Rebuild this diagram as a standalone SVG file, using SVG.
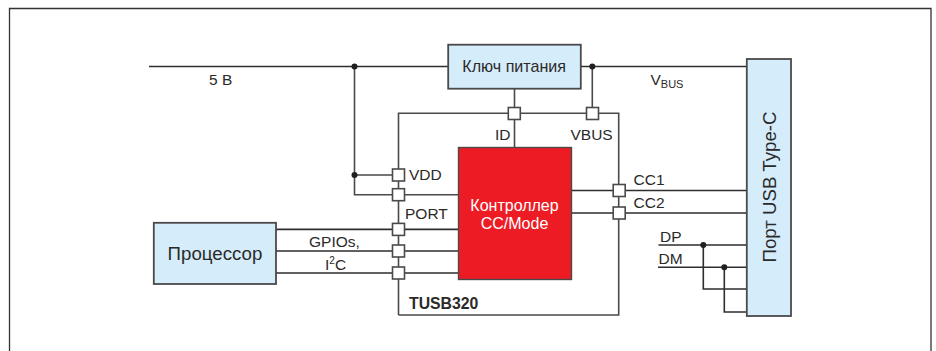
<svg xmlns="http://www.w3.org/2000/svg" width="936" height="351" viewBox="0 0 936 351">
<style>
text{font-family:"Liberation Sans",Arial,sans-serif;font-size:15.5px;fill:#2b2a29}
.w{fill:none;stroke:#4a4a4a;stroke-width:1.6}
.k{fill:none;stroke:#2e2e2e;stroke-width:1.6}
.blue{fill:#d5ecfa;stroke:#4a4a4a;stroke-width:1.8}
.pin{fill:#fff;stroke:#4a4a4a;stroke-width:1.6}
.dot{fill:#231f20}
.big{font-size:18.7px}
</style>
<rect width="936" height="351" fill="#fff"/>
<path id="frame" d="M9.5 351V8.5H931V351" fill="none" stroke="#333" stroke-width="1.3"/>
<g id="connectors">
<path class="k" d="M149 66.5H448M581 66.5H747"/>
<path class="w" d="M354.5 66.5V194.7H458M354.5 175H398.5"/>
<path class="w" d="M398.5 315V113.3H618.7V315H398.5"/>
<path class="w" d="M514.5 89V147.5M592.3 66.5V113.3"/>
<path class="k" d="M276 229.4H458M276 251H458M276 273H458"/>
<path class="k" d="M571.5 190.5H747M571.5 213H747"/>
<path class="k" d="M658.5 245H747M658 267.3H747M703.3 245V289H747M724.3 267.3V312H747"/>
<circle class="dot" cx="354.5" cy="66.5" r="3"/>
<circle class="dot" cx="354.5" cy="175" r="3"/>
<circle class="dot" cx="592.3" cy="66.5" r="3"/>
<circle class="dot" cx="703.3" cy="245" r="3"/>
<circle class="dot" cx="724.3" cy="267.3" r="3"/>
</g>
<g id="switch"><rect class="blue" x="448.2" y="44.7" width="132.6" height="44"/><text x="514.2" y="71.5" text-anchor="middle" style="font-size:16.1px">Ключ питания</text></g>
<g id="controller"><rect x="458.5" y="147.5" width="113" height="132" fill="#ed1c24" stroke="#4a4a4a" stroke-width="1.4"/><text x="514.5" y="210.5" text-anchor="middle" style="fill:#fff;font-size:16px">Контроллер</text><text x="514.5" y="229" text-anchor="middle" style="fill:#fff;font-size:16px">CC/Mode</text></g>
<g id="processor"><rect class="blue" x="153.8" y="222.8" width="122.2" height="61.2"/><text x="215" y="259.5" text-anchor="middle" class="big">Процессор</text></g>
<g id="port"><rect class="blue" x="746.8" y="59" width="44.2" height="257"/><text transform="translate(775.5 187) rotate(-90)" text-anchor="middle" class="big">Порт USB Type-C</text></g>
<g id="pins">
<rect class="pin" x="392.5" y="169" width="12" height="12"/>
<rect class="pin" x="392.5" y="188.7" width="12" height="12"/>
<rect class="pin" x="392.5" y="223.4" width="12" height="12"/>
<rect class="pin" x="392.5" y="245" width="12" height="12"/>
<rect class="pin" x="392.5" y="267" width="12" height="12"/>
<rect class="pin" x="508.3" y="107.5" width="12" height="12"/>
<rect class="pin" x="586.5" y="107.5" width="12" height="12"/>
<rect class="pin" x="613.2" y="184.5" width="12" height="12"/>
<rect class="pin" x="613.2" y="207" width="12" height="12"/>
</g>
<g id="labels">
<text x="209" y="85">5 В</text>
<text x="650.5" y="85">V<tspan dy="3" style="font-size:11px">BUS</tspan></text>
<text x="495" y="140">ID</text>
<text x="570.5" y="140">VBUS</text>
<text x="409" y="179.5">VDD</text>
<text x="405" y="219">PORT</text>
<text x="309" y="247">GPIOs,</text>
<text x="325" y="270">I<tspan dy="-6" style="font-size:10px">2</tspan><tspan dy="6">C</tspan></text>
<text x="409" y="309" style="font-weight:700;font-size:15.8px">TUSB320</text>
<text x="633.5" y="184.5">CC1</text>
<text x="633.5" y="208">CC2</text>
<text x="660" y="241.5">DP</text>
<text x="658.5" y="264">DM</text>
</g>
</svg>
